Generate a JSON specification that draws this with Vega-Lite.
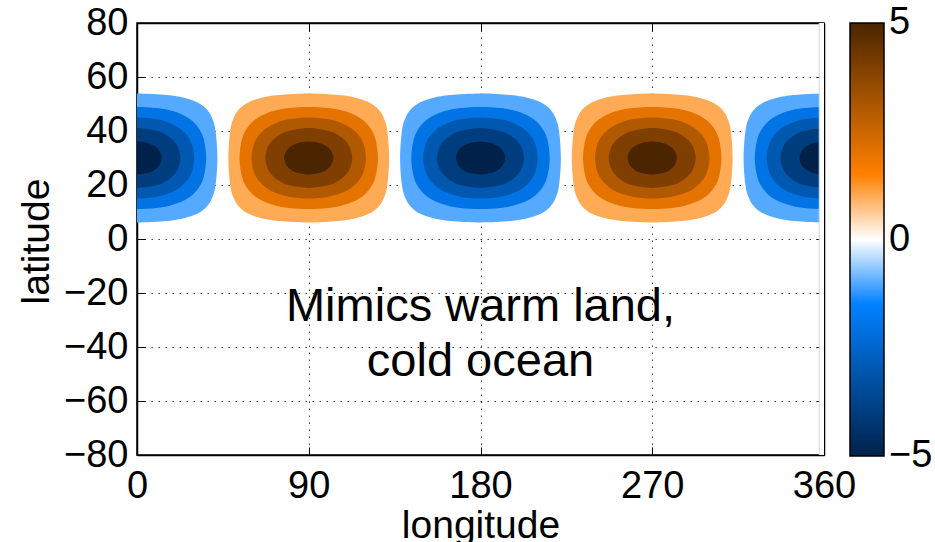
{
  "$schema": "https://vega.github.io/schema/vega-lite/v6.json",
  "width": 687,
  "height": 432,
  "autosize": {"type": "none"},
  "padding": {"left": 137, "top": 23, "right": 111, "bottom": 87},
  "background": "white",
  "config": {
    "font": "Liberation Sans",
    "view": {"stroke": "#000", "strokeWidth": 1.5},
    "axis": {
      "domainColor": "#000",
      "domainWidth": 1.5,
      "tickColor": "#000",
      "tickWidth": 1,
      "tickSize": -8,
      "labelColor": "#000",
      "labelFontSize": 38,
      "labelFont": "Liberation Sans",
      "labelFlush": false,
      "labelOverlap": false,
      "titleColor": "#000",
      "titleFont": "Liberation Sans",
      "titleFontSize": 39,
      "titleFontWeight": "normal",
      "gridColor": "#000",
      "gridOpacity": 0.75,
      "gridDash": [1.5, 5.5],
      "gridWidth": 1,
      "zindex": 1
    }
  },
  "datasets": {
    "contours": [
      {"i":0,"lat":30,"lon0":42.13,"lon90":132.13,"lon180":222.13,"lon270":312.13,"lon360":402.13,"warm":1,"cold":-1},
      {"i":1,"lat":40,"lon0":41.17,"lon90":131.17,"lon180":221.17,"lon270":311.17,"lon360":401.17,"warm":1,"cold":-1},
      {"i":2,"lat":45,"lon0":39.23,"lon90":129.23,"lon180":219.23,"lon270":309.23,"lon360":399.23,"warm":1,"cold":-1},
      {"i":3,"lat":48.33,"lon0":36.15,"lon90":126.15,"lon180":216.15,"lon270":306.15,"lon360":396.15,"warm":1,"cold":-1},
      {"i":4,"lat":50.67,"lon0":31.51,"lon90":121.51,"lon180":211.51,"lon270":301.51,"lon360":391.51,"warm":1,"cold":-1},
      {"i":5,"lat":52.33,"lon0":24.54,"lon90":114.54,"lon180":204.54,"lon270":294.54,"lon360":384.54,"warm":1,"cold":-1},
      {"i":6,"lat":53.33,"lon0":15.63,"lon90":105.63,"lon180":195.63,"lon270":285.63,"lon360":375.63,"warm":1,"cold":-1},
      {"i":7,"lat":53.86,"lon0":0,"lon90":90,"lon180":180,"lon270":270,"lon360":360,"warm":1,"cold":-1},
      {"i":8,"lat":53.33,"lon0":-15.63,"lon90":74.37,"lon180":164.37,"lon270":254.37,"lon360":344.37,"warm":1,"cold":-1},
      {"i":9,"lat":52.33,"lon0":-24.54,"lon90":65.46,"lon180":155.46,"lon270":245.46,"lon360":335.46,"warm":1,"cold":-1},
      {"i":10,"lat":50.67,"lon0":-31.51,"lon90":58.49,"lon180":148.49,"lon270":238.49,"lon360":328.49,"warm":1,"cold":-1},
      {"i":11,"lat":48.33,"lon0":-36.15,"lon90":53.85,"lon180":143.85,"lon270":233.85,"lon360":323.85,"warm":1,"cold":-1},
      {"i":12,"lat":45,"lon0":-39.23,"lon90":50.77,"lon180":140.77,"lon270":230.77,"lon360":320.77,"warm":1,"cold":-1},
      {"i":13,"lat":40,"lon0":-41.17,"lon90":48.83,"lon180":138.83,"lon270":228.83,"lon360":318.83,"warm":1,"cold":-1},
      {"i":14,"lat":30,"lon0":-42.13,"lon90":47.87,"lon180":137.87,"lon270":227.87,"lon360":317.87,"warm":1,"cold":-1},
      {"i":15,"lat":20,"lon0":-41.17,"lon90":48.83,"lon180":138.83,"lon270":228.83,"lon360":318.83,"warm":1,"cold":-1},
      {"i":16,"lat":15,"lon0":-39.23,"lon90":50.77,"lon180":140.77,"lon270":230.77,"lon360":320.77,"warm":1,"cold":-1},
      {"i":17,"lat":11.67,"lon0":-36.15,"lon90":53.85,"lon180":143.85,"lon270":233.85,"lon360":323.85,"warm":1,"cold":-1},
      {"i":18,"lat":9.33,"lon0":-31.51,"lon90":58.49,"lon180":148.49,"lon270":238.49,"lon360":328.49,"warm":1,"cold":-1},
      {"i":19,"lat":7.67,"lon0":-24.54,"lon90":65.46,"lon180":155.46,"lon270":245.46,"lon360":335.46,"warm":1,"cold":-1},
      {"i":20,"lat":6.67,"lon0":-15.63,"lon90":74.37,"lon180":164.37,"lon270":254.37,"lon360":344.37,"warm":1,"cold":-1},
      {"i":21,"lat":6.14,"lon0":0,"lon90":90,"lon180":180,"lon270":270,"lon360":360,"warm":1,"cold":-1},
      {"i":22,"lat":6.67,"lon0":15.63,"lon90":105.63,"lon180":195.63,"lon270":285.63,"lon360":375.63,"warm":1,"cold":-1},
      {"i":23,"lat":7.67,"lon0":24.54,"lon90":114.54,"lon180":204.54,"lon270":294.54,"lon360":384.54,"warm":1,"cold":-1},
      {"i":24,"lat":9.33,"lon0":31.51,"lon90":121.51,"lon180":211.51,"lon270":301.51,"lon360":391.51,"warm":1,"cold":-1},
      {"i":25,"lat":11.67,"lon0":36.15,"lon90":126.15,"lon180":216.15,"lon270":306.15,"lon360":396.15,"warm":1,"cold":-1},
      {"i":26,"lat":15,"lon0":39.23,"lon90":129.23,"lon180":219.23,"lon270":309.23,"lon360":399.23,"warm":1,"cold":-1},
      {"i":27,"lat":20,"lon0":41.17,"lon90":131.17,"lon180":221.17,"lon270":311.17,"lon360":401.17,"warm":1,"cold":-1},

      {"i":0,"lat":30,"lon0":36.27,"lon90":126.27,"lon180":216.27,"lon270":306.27,"lon360":396.27,"warm":2,"cold":-2},
      {"i":1,"lat":36.67,"lon0":35.07,"lon90":125.07,"lon180":215.07,"lon270":305.07,"lon360":395.07,"warm":2,"cold":-2},
      {"i":2,"lat":40.67,"lon0":32.67,"lon90":122.67,"lon180":212.67,"lon270":302.67,"lon360":392.67,"warm":2,"cold":-2},
      {"i":3,"lat":44,"lon0":28.55,"lon90":118.55,"lon180":208.55,"lon270":298.55,"lon360":388.55,"warm":2,"cold":-2},
      {"i":4,"lat":46.33,"lon0":22.91,"lon90":112.91,"lon180":202.91,"lon270":292.91,"lon360":382.91,"warm":2,"cold":-2},
      {"i":5,"lat":47.67,"lon0":17.04,"lon90":107.04,"lon180":197.04,"lon270":287.04,"lon360":377.04,"warm":2,"cold":-2},
      {"i":6,"lat":48.5,"lon0":10.37,"lon90":100.37,"lon180":190.37,"lon270":280.37,"lon360":370.37,"warm":2,"cold":-2},
      {"i":7,"lat":48.93,"lon0":0,"lon90":90,"lon180":180,"lon270":270,"lon360":360,"warm":2,"cold":-2},
      {"i":8,"lat":48.5,"lon0":-10.37,"lon90":79.63,"lon180":169.63,"lon270":259.63,"lon360":349.63,"warm":2,"cold":-2},
      {"i":9,"lat":47.67,"lon0":-17.04,"lon90":72.96,"lon180":162.96,"lon270":252.96,"lon360":342.96,"warm":2,"cold":-2},
      {"i":10,"lat":46.33,"lon0":-22.91,"lon90":67.09,"lon180":157.09,"lon270":247.09,"lon360":337.09,"warm":2,"cold":-2},
      {"i":11,"lat":44,"lon0":-28.55,"lon90":61.45,"lon180":151.45,"lon270":241.45,"lon360":331.45,"warm":2,"cold":-2},
      {"i":12,"lat":40.67,"lon0":-32.67,"lon90":57.33,"lon180":147.33,"lon270":237.33,"lon360":327.33,"warm":2,"cold":-2},
      {"i":13,"lat":36.67,"lon0":-35.07,"lon90":54.93,"lon180":144.93,"lon270":234.93,"lon360":324.93,"warm":2,"cold":-2},
      {"i":14,"lat":30,"lon0":-36.27,"lon90":53.73,"lon180":143.73,"lon270":233.73,"lon360":323.73,"warm":2,"cold":-2},
      {"i":15,"lat":23.33,"lon0":-35.07,"lon90":54.93,"lon180":144.93,"lon270":234.93,"lon360":324.93,"warm":2,"cold":-2},
      {"i":16,"lat":19.33,"lon0":-32.67,"lon90":57.33,"lon180":147.33,"lon270":237.33,"lon360":327.33,"warm":2,"cold":-2},
      {"i":17,"lat":16,"lon0":-28.55,"lon90":61.45,"lon180":151.45,"lon270":241.45,"lon360":331.45,"warm":2,"cold":-2},
      {"i":18,"lat":13.67,"lon0":-22.91,"lon90":67.09,"lon180":157.09,"lon270":247.09,"lon360":337.09,"warm":2,"cold":-2},
      {"i":19,"lat":12.33,"lon0":-17.04,"lon90":72.96,"lon180":162.96,"lon270":252.96,"lon360":342.96,"warm":2,"cold":-2},
      {"i":20,"lat":11.5,"lon0":-10.37,"lon90":79.63,"lon180":169.63,"lon270":259.63,"lon360":349.63,"warm":2,"cold":-2},
      {"i":21,"lat":11.07,"lon0":0,"lon90":90,"lon180":180,"lon270":270,"lon360":360,"warm":2,"cold":-2},
      {"i":22,"lat":11.5,"lon0":10.37,"lon90":100.37,"lon180":190.37,"lon270":280.37,"lon360":370.37,"warm":2,"cold":-2},
      {"i":23,"lat":12.33,"lon0":17.04,"lon90":107.04,"lon180":197.04,"lon270":287.04,"lon360":377.04,"warm":2,"cold":-2},
      {"i":24,"lat":13.67,"lon0":22.91,"lon90":112.91,"lon180":202.91,"lon270":292.91,"lon360":382.91,"warm":2,"cold":-2},
      {"i":25,"lat":16,"lon0":28.55,"lon90":118.55,"lon180":208.55,"lon270":298.55,"lon360":388.55,"warm":2,"cold":-2},
      {"i":26,"lat":19.33,"lon0":32.67,"lon90":122.67,"lon180":212.67,"lon270":302.67,"lon360":392.67,"warm":2,"cold":-2},
      {"i":27,"lat":23.33,"lon0":35.07,"lon90":125.07,"lon180":215.07,"lon270":305.07,"lon360":395.07,"warm":2,"cold":-2},

      {"i":0,"lat":30,"lon0":30,"lon90":120,"lon180":210,"lon270":300,"lon360":390,"warm":3,"cold":-3},
      {"i":1,"lat":35,"lon0":28.8,"lon90":118.8,"lon180":208.8,"lon270":298.8,"lon360":388.8,"warm":3,"cold":-3},
      {"i":2,"lat":38.33,"lon0":26.25,"lon90":116.25,"lon180":206.25,"lon270":296.25,"lon360":386.25,"warm":3,"cold":-3},
      {"i":3,"lat":41,"lon0":22.35,"lon90":112.35,"lon180":202.35,"lon270":292.35,"lon360":382.35,"warm":3,"cold":-3},
      {"i":4,"lat":43,"lon0":17.06,"lon90":107.06,"lon180":197.06,"lon270":287.06,"lon360":377.06,"warm":3,"cold":-3},
      {"i":5,"lat":44.33,"lon0":10.4,"lon90":100.4,"lon180":190.4,"lon270":280.4,"lon360":370.4,"warm":3,"cold":-3},
      {"i":6,"lat":45,"lon0":0,"lon90":90,"lon180":180,"lon270":270,"lon360":360,"warm":3,"cold":-3},
      {"i":7,"lat":44.33,"lon0":-10.4,"lon90":79.6,"lon180":169.6,"lon270":259.6,"lon360":349.6,"warm":3,"cold":-3},
      {"i":8,"lat":43,"lon0":-17.06,"lon90":72.94,"lon180":162.94,"lon270":252.94,"lon360":342.94,"warm":3,"cold":-3},
      {"i":9,"lat":41,"lon0":-22.35,"lon90":67.65,"lon180":157.65,"lon270":247.65,"lon360":337.65,"warm":3,"cold":-3},
      {"i":10,"lat":38.33,"lon0":-26.25,"lon90":63.75,"lon180":153.75,"lon270":243.75,"lon360":333.75,"warm":3,"cold":-3},
      {"i":11,"lat":35,"lon0":-28.8,"lon90":61.2,"lon180":151.2,"lon270":241.2,"lon360":331.2,"warm":3,"cold":-3},
      {"i":12,"lat":30,"lon0":-30,"lon90":60,"lon180":150,"lon270":240,"lon360":330,"warm":3,"cold":-3},
      {"i":13,"lat":25,"lon0":-28.8,"lon90":61.2,"lon180":151.2,"lon270":241.2,"lon360":331.2,"warm":3,"cold":-3},
      {"i":14,"lat":21.67,"lon0":-26.25,"lon90":63.75,"lon180":153.75,"lon270":243.75,"lon360":333.75,"warm":3,"cold":-3},
      {"i":15,"lat":19,"lon0":-22.35,"lon90":67.65,"lon180":157.65,"lon270":247.65,"lon360":337.65,"warm":3,"cold":-3},
      {"i":16,"lat":17,"lon0":-17.06,"lon90":72.94,"lon180":162.94,"lon270":252.94,"lon360":342.94,"warm":3,"cold":-3},
      {"i":17,"lat":15.67,"lon0":-10.4,"lon90":79.6,"lon180":169.6,"lon270":259.6,"lon360":349.6,"warm":3,"cold":-3},
      {"i":18,"lat":15,"lon0":0,"lon90":90,"lon180":180,"lon270":270,"lon360":360,"warm":3,"cold":-3},
      {"i":19,"lat":15.67,"lon0":10.4,"lon90":100.4,"lon180":190.4,"lon270":280.4,"lon360":370.4,"warm":3,"cold":-3},
      {"i":20,"lat":17,"lon0":17.06,"lon90":107.06,"lon180":197.06,"lon270":287.06,"lon360":377.06,"warm":3,"cold":-3},
      {"i":21,"lat":19,"lon0":22.35,"lon90":112.35,"lon180":202.35,"lon270":292.35,"lon360":382.35,"warm":3,"cold":-3},
      {"i":22,"lat":21.67,"lon0":26.25,"lon90":116.25,"lon180":206.25,"lon270":296.25,"lon360":386.25,"warm":3,"cold":-3},
      {"i":23,"lat":25,"lon0":28.8,"lon90":118.8,"lon180":208.8,"lon270":298.8,"lon360":388.8,"warm":3,"cold":-3},

      {"i":0,"lat":30,"lon0":22.79,"lon90":112.79,"lon180":202.79,"lon270":292.79,"lon360":382.79,"warm":4,"cold":-4},
      {"i":1,"lat":34,"lon0":21.49,"lon90":111.49,"lon180":201.49,"lon270":291.49,"lon360":381.49,"warm":4,"cold":-4},
      {"i":2,"lat":36.67,"lon0":18.78,"lon90":108.78,"lon180":198.78,"lon270":288.78,"lon360":378.78,"warm":4,"cold":-4},
      {"i":3,"lat":38.67,"lon0":14.97,"lon90":104.97,"lon180":194.97,"lon270":284.97,"lon360":374.97,"warm":4,"cold":-4},
      {"i":4,"lat":40,"lon0":10.52,"lon90":100.52,"lon180":190.52,"lon270":280.52,"lon360":370.52,"warm":4,"cold":-4},
      {"i":5,"lat":41.07,"lon0":0,"lon90":90,"lon180":180,"lon270":270,"lon360":360,"warm":4,"cold":-4},
      {"i":6,"lat":40,"lon0":-10.52,"lon90":79.48,"lon180":169.48,"lon270":259.48,"lon360":349.48,"warm":4,"cold":-4},
      {"i":7,"lat":38.67,"lon0":-14.97,"lon90":75.03,"lon180":165.03,"lon270":255.03,"lon360":345.03,"warm":4,"cold":-4},
      {"i":8,"lat":36.67,"lon0":-18.78,"lon90":71.22,"lon180":161.22,"lon270":251.22,"lon360":341.22,"warm":4,"cold":-4},
      {"i":9,"lat":34,"lon0":-21.49,"lon90":68.51,"lon180":158.51,"lon270":248.51,"lon360":338.51,"warm":4,"cold":-4},
      {"i":10,"lat":30,"lon0":-22.79,"lon90":67.21,"lon180":157.21,"lon270":247.21,"lon360":337.21,"warm":4,"cold":-4},
      {"i":11,"lat":26,"lon0":-21.49,"lon90":68.51,"lon180":158.51,"lon270":248.51,"lon360":338.51,"warm":4,"cold":-4},
      {"i":12,"lat":23.33,"lon0":-18.78,"lon90":71.22,"lon180":161.22,"lon270":251.22,"lon360":341.22,"warm":4,"cold":-4},
      {"i":13,"lat":21.33,"lon0":-14.97,"lon90":75.03,"lon180":165.03,"lon270":255.03,"lon360":345.03,"warm":4,"cold":-4},
      {"i":14,"lat":20,"lon0":-10.52,"lon90":79.48,"lon180":169.48,"lon270":259.48,"lon360":349.48,"warm":4,"cold":-4},
      {"i":15,"lat":18.93,"lon0":0,"lon90":90,"lon180":180,"lon270":270,"lon360":360,"warm":4,"cold":-4},
      {"i":16,"lat":20,"lon0":10.52,"lon90":100.52,"lon180":190.52,"lon270":280.52,"lon360":370.52,"warm":4,"cold":-4},
      {"i":17,"lat":21.33,"lon0":14.97,"lon90":104.97,"lon180":194.97,"lon270":284.97,"lon360":374.97,"warm":4,"cold":-4},
      {"i":18,"lat":23.33,"lon0":18.78,"lon90":108.78,"lon180":198.78,"lon270":288.78,"lon360":378.78,"warm":4,"cold":-4},
      {"i":19,"lat":26,"lon0":21.49,"lon90":111.49,"lon180":201.49,"lon270":291.49,"lon360":381.49,"warm":4,"cold":-4},

      {"i":0,"lat":30,"lon0":12.92,"lon90":102.92,"lon180":192.92,"lon270":282.92,"lon360":372.92,"warm":5,"cold":-5},
      {"i":1,"lat":32.67,"lon0":11.7,"lon90":101.7,"lon180":191.7,"lon270":281.7,"lon360":371.7,"warm":5,"cold":-5},
      {"i":2,"lat":34.33,"lon0":9.29,"lon90":99.29,"lon180":189.29,"lon270":279.29,"lon360":369.29,"warm":5,"cold":-5},
      {"i":3,"lat":35.5,"lon0":5.89,"lon90":95.89,"lon180":185.89,"lon270":275.89,"lon360":365.89,"warm":5,"cold":-5},
      {"i":4,"lat":36.14,"lon0":0,"lon90":90,"lon180":180,"lon270":270,"lon360":360,"warm":5,"cold":-5},
      {"i":5,"lat":35.5,"lon0":-5.89,"lon90":84.11,"lon180":174.11,"lon270":264.11,"lon360":354.11,"warm":5,"cold":-5},
      {"i":6,"lat":34.33,"lon0":-9.29,"lon90":80.71,"lon180":170.71,"lon270":260.71,"lon360":350.71,"warm":5,"cold":-5},
      {"i":7,"lat":32.67,"lon0":-11.7,"lon90":78.3,"lon180":168.3,"lon270":258.3,"lon360":348.3,"warm":5,"cold":-5},
      {"i":8,"lat":30,"lon0":-12.92,"lon90":77.08,"lon180":167.08,"lon270":257.08,"lon360":347.08,"warm":5,"cold":-5},
      {"i":9,"lat":27.33,"lon0":-11.7,"lon90":78.3,"lon180":168.3,"lon270":258.3,"lon360":348.3,"warm":5,"cold":-5},
      {"i":10,"lat":25.67,"lon0":-9.29,"lon90":80.71,"lon180":170.71,"lon270":260.71,"lon360":350.71,"warm":5,"cold":-5},
      {"i":11,"lat":24.5,"lon0":-5.89,"lon90":84.11,"lon180":174.11,"lon270":264.11,"lon360":354.11,"warm":5,"cold":-5},
      {"i":12,"lat":23.86,"lon0":0,"lon90":90,"lon180":180,"lon270":270,"lon360":360,"warm":5,"cold":-5},
      {"i":13,"lat":24.5,"lon0":5.89,"lon90":95.89,"lon180":185.89,"lon270":275.89,"lon360":365.89,"warm":5,"cold":-5},
      {"i":14,"lat":25.67,"lon0":9.29,"lon90":99.29,"lon180":189.29,"lon270":279.29,"lon360":369.29,"warm":5,"cold":-5},
      {"i":15,"lat":27.33,"lon0":11.7,"lon90":101.7,"lon180":191.7,"lon270":281.7,"lon360":371.7,"warm":5,"cold":-5}
    ],
    "gridEdge": [{"from": 357.5, "to": 360}],
    "note": [{"lon": 180, "lat": -30.5}]
  },
  "layer": [
    {
      "data": {"name": "contours"},
      "transform": [{"fold": ["lon90", "lon270"], "as": ["blob", "lon"]}],
      "mark": {"type": "line", "interpolate": "cardinal-closed", "clip": true, "filled": true, "strokeWidth": 0, "strokeOpacity": 0},
      "encoding": {
        "x": {
          "field": "lon", "type": "quantitative",
          "scale": {"domain": [0, 360], "nice": false, "zero": false},
          "axis": {
            "orient": "bottom",
            "values": [0, 90, 180, 270, 360],
            "grid": true,
            "labelPadding": 20,
            "title": "longitude",
            "titleY": 82,
            "titleBaseline": "alphabetic"
          }
        },
        "y": {
          "field": "lat", "type": "quantitative",
          "scale": {"domain": [-80, 80], "nice": false, "zero": false},
          "axis": {
            "orient": "left",
            "values": [-80, -60, -40, -20, 0, 20, 40, 60, 80],
            "grid": true,
            "labelPadding": 17,
            "title": "latitude",
            "titleAngle": -90,
            "titleX": -89,
            "titleY": 218,
            "titleAlign": "center",
            "titleBaseline": "alphabetic"
          }
        },
        "fill": {
          "field": "warm", "type": "quantitative",
          "scale": {
            "type": "linear",
            "domain": [-5, -1.5, 0, 1.5, 5],
            "range": ["#00224a", "#0080ff", "#ffffff", "#ff8000", "#4a2500"],
            "interpolate": "rgb"
          },
          "legend": {
            "title": null,
            "type": "gradient",
            "direction": "vertical",
            "orient": "right",
            "offset": 25,
            "padding": 0,
            "values": [-5, 0, 5],
            "gradientLength": 433,
            "gradientThickness": 34,
            "gradientStrokeColor": "#000",
            "gradientStrokeWidth": 1.5,
            "labelFontSize": 38,
            "labelFont": "Liberation Sans",
            "labelColor": "#000",
            "labelOffset": 5,
            "labelOverlap": false,
            "encode": {"labels": {"update": {"baseline": {"value": "middle"}}}}
          }
        },
        "detail": {"field": "blob"},
        "order": {"field": "i"}
      }
    },
    {
      "data": {"name": "contours"},
      "transform": [{"fold": ["lon0", "lon180", "lon360"], "as": ["blob", "lon"]}],
      "mark": {"type": "line", "interpolate": "cardinal-closed", "clip": true, "filled": true, "strokeWidth": 0, "strokeOpacity": 0},
      "encoding": {
        "x": {"field": "lon", "type": "quantitative", "axis": null},
        "y": {"field": "lat", "type": "quantitative", "axis": null},
        "fill": {"field": "cold", "type": "quantitative", "legend": {"title": null}},
        "detail": {"field": "blob"},
        "order": {"field": "i"}
      }
    },
    {
      "data": {"name": "gridEdge"},
      "mark": {"type": "rect", "fill": "white", "stroke": null},
      "encoding": {
        "x": {"field": "from", "type": "quantitative", "axis": null},
        "x2": {"field": "to"}
      }
    },
    {
      "data": {"name": "gridEdge"},
      "mark": {"type": "rule", "stroke": "#c6daf5", "strokeWidth": 1},
      "encoding": {
        "x": {"field": "from", "type": "quantitative", "axis": null}
      }
    },
    {
      "data": {"name": "note"},
      "mark": {
        "type": "text",
        "text": ["Mimics warm land,", "cold ocean"],
        "font": "Liberation Sans",
        "fontSize": 47,
        "lineHeight": 55,
        "align": "center",
        "baseline": "alphabetic",
        "color": "#000"
      },
      "encoding": {
        "x": {
          "field": "lon", "type": "quantitative",
          "axis": {"orient": "top", "values": [0, 90, 180, 270, 360], "labels": false, "grid": false, "title": null}
        },
        "y": {
          "field": "lat", "type": "quantitative",
          "axis": {"orient": "right", "values": [-80, -60, -40, -20, 0, 20, 40, 60, 80], "labels": false, "grid": false, "title": null}
        }
      }
    }
  ],
  "resolve": {"axis": {"x": "independent", "y": "independent"}}
}
